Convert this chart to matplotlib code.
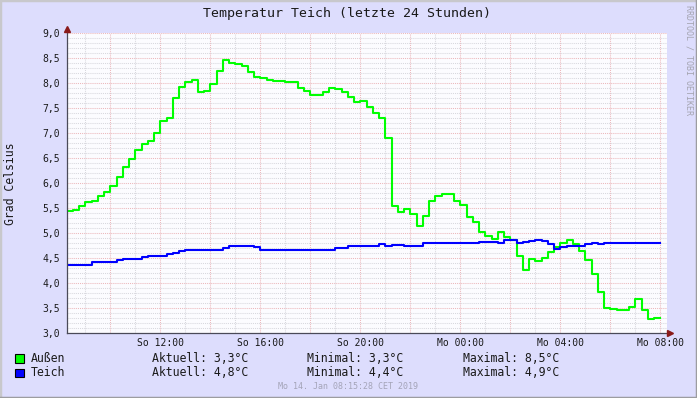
import numpy as np
import pandas as pd
import matplotlib
matplotlib.use("Agg")
import matplotlib.pyplot as plt
from matplotlib.patches import Rectangle
from matplotlib.lines import Line2D

# -----------------------------
#  DATA  (15-min values, So 13.01.2019 08:15 .. Mo 14.01.2019 08:00)
# -----------------------------
START = "2019-01-13 08:15"
END = "2019-01-14 08:15"

aussen = [5.45, 5.47, 5.55, 5.62, 5.65, 5.75, 5.82, 5.95, 6.13, 6.33,
          6.49, 6.67, 6.78, 6.85, 7.01, 7.25, 7.31, 7.71, 7.93, 8.02,
          8.06, 7.83, 7.85, 7.99, 8.25, 8.47, 8.41, 8.38, 8.35, 8.23,
          8.13, 8.10, 8.07, 8.04, 8.05, 8.02, 8.03, 7.91, 7.85, 7.77,
          7.77, 7.83, 7.91, 7.88, 7.83, 7.73, 7.63, 7.65, 7.52, 7.40,
          7.30, 6.90, 5.55, 5.43, 5.49, 5.39, 5.15, 5.35, 5.65, 5.75,
          5.79, 5.79, 5.65, 5.57, 5.32, 5.23, 5.03, 4.95, 4.88, 5.03,
          4.92, 4.87, 4.55, 4.27, 4.48, 4.45, 4.51, 4.62, 4.72, 4.81,
          4.87, 4.79, 4.65, 4.47, 4.19, 3.83, 3.51, 3.49, 3.47, 3.47,
          3.53, 3.69, 3.47, 3.28, 3.31]

teich = [4.37, 4.37, 4.37, 4.37, 4.43, 4.43, 4.43, 4.43, 4.46, 4.49,
         4.49, 4.49, 4.53, 4.55, 4.55, 4.55, 4.58, 4.61, 4.64, 4.67,
         4.67, 4.67, 4.67, 4.67, 4.67, 4.71, 4.75, 4.75, 4.75, 4.75,
         4.73, 4.67, 4.67, 4.67, 4.67, 4.67, 4.67, 4.67, 4.67, 4.67,
         4.67, 4.67, 4.67, 4.71, 4.71, 4.75, 4.75, 4.75, 4.75, 4.75,
         4.79, 4.75, 4.77, 4.77, 4.75, 4.75, 4.75, 4.81, 4.81, 4.81,
         4.81, 4.81, 4.81, 4.81, 4.81, 4.81, 4.83, 4.83, 4.83, 4.81,
         4.86, 4.86, 4.81, 4.83, 4.85, 4.87, 4.85, 4.79, 4.69, 4.72,
         4.75, 4.75, 4.75, 4.79, 4.81, 4.78, 4.80, 4.81, 4.81, 4.81,
         4.81, 4.81, 4.81, 4.81, 4.81]

x_ticks = ["2019-01-13 12:00", "2019-01-13 16:00", "2019-01-13 20:00",
           "2019-01-14 00:00", "2019-01-14 04:00", "2019-01-14 08:00"]
x_labels = ["So 12:00", "So 16:00", "So 20:00", "Mo 00:00", "Mo 04:00", "Mo 08:00"]

names = ["Außen", "Teich"]
colors = ["#00ff00", "#0000ff"]
aktuell = ["3,3", "4,8"]
minimal = ["3,3", "4,4"]
maximal = ["8,5", "4,9"]

# -----------------------------
#  STYLE
# -----------------------------
W, H = 697, 398
BACK = "#ddddfd"
CANVAS = "#fcfcff"
MONO = "DejaVu Sans Mono"
plt.rcParams["font.family"] = MONO

fig = plt.figure(figsize=(W / 100, H / 100), dpi=100)
fig.patch.set_facecolor(BACK)

def fx(x):
    return x / W

def fy(y):
    return 1 - y / H

ax = fig.add_axes([fx(66.7), fy(333.3), 600 / W, 300 / H])
ax.set_facecolor(CANVAS)
for s in ax.spines.values():
    s.set_visible(False)

t0, t1 = pd.Timestamp(START), pd.Timestamp(END)
ax.set_xlim(t0, t1)
ax.set_ylim(3.0, 9.0)

# grid: minor 1h / 0.1, major 2h / 0.5
dots = (0, (1, 1))
MAJ = "#ecb8bc"
MIN = "#d8d8de"
for t in pd.date_range("2019-01-13 09:00", "2019-01-14 08:00", freq="1h"):
    c = MAJ if t.hour % 2 == 0 else MIN
    ax.axvline(t, color=c, lw=0.75, ls=dots, zorder=1)
for k in range(31, 91):
    v = k / 10
    c = MAJ if k % 5 == 0 else MIN
    ax.axhline(v, color=c, lw=0.75, ls=dots, zorder=1)

# data
times = pd.date_range(START, periods=len(aussen) + 1, freq="15min")
ax.step(times, aussen + [aussen[-1]], where="post", color=colors[0], lw=1.5, zorder=3)
ax.step(times, teich + [teich[-1]], where="post", color=colors[1], lw=1.5, zorder=4)

# ticks
yt = np.arange(3.0, 9.01, 0.5)
ax.set_yticks(yt)
ax.set_yticklabels([f"{v:.1f}".replace(".", ",") for v in yt])
ax.set_xticks(pd.to_datetime(x_ticks))
ax.set_xticklabels(x_labels)
ax.tick_params(axis="y", length=0, pad=4.6, labelsize=7, labelcolor="#1a1a1a")
ax.tick_params(axis="x", length=0, pad=3.2, labelsize=7, labelcolor="#1a1a1a")

# axes with arrows
axis_c = "#4a4a58"
arrow_c = "#8a1a1a"
fig.add_artist(Line2D([fx(66.7), fx(66.7)], [fy(333.3), fy(29)], color=axis_c, lw=0.9))
fig.add_artist(Line2D([fx(66.7), fx(670)], [fy(333.3), fy(333.3)], color=axis_c, lw=0.9))
fig.add_artist(Line2D([fx(66.7)], [fy(29)], marker="^", ms=4.5, color=arrow_c, lw=0))
fig.add_artist(Line2D([fx(670)], [fy(333.3)], marker=">", ms=4.5, color=arrow_c, lw=0))

# texts
fig.text(fx(347), fy(13.5), "Temperatur Teich (letzte 24 Stunden)",
         ha="center", va="center", fontsize=9.5, color="#1a1a1a")
fig.text(fx(11), fy(183.3), "Grad Celsius", rotation=90,
         ha="center", va="center", fontsize=8.3, color="#1a1a1a")
fig.text(fx(689), fy(60), "RRDTOOL / TOBI OETIKER", rotation=270,
         ha="center", va="center", fontsize=6, color="#a4a4b0")
fig.text(fx(348), fy(386.5), "Mo 14. Jan 08:15:28 CET 2019",
         ha="center", va="center", fontsize=6, color="#a4a4b8")

# legend
for i, name in enumerate(names):
    y = 358.3 + i * 14.5
    fig.add_artist(Rectangle((fx(15), fy(y + 4.5)), 8.5 / W, 8.5 / H,
                             facecolor=colors[i], edgecolor="black", lw=0.8))
    kw = dict(ha="left", va="center", fontsize=8.3, color="#1a1a1a")
    fig.text(fx(31), fy(y), name, **kw)
    fig.text(fx(151.7), fy(y), f"Aktuell: {aktuell[i]}°C", **kw)
    fig.text(fx(307.3), fy(y), f"Minimal: {minimal[i]}°C", **kw)
    fig.text(fx(463.3), fy(y), f"Maximal: {maximal[i]}°C", **kw)

# 3d frame
fig.add_artist(Line2D([0, 0, 1], [0, 1, 1], transform=fig.transFigure,
                      color="#c8c8cc", lw=2.5))
fig.add_artist(Line2D([0, 1, 1], [0, 0, 1], transform=fig.transFigure,
                      color="#9c9ca0", lw=2.5))

fig.savefig("out.png", dpi=100, facecolor=fig.get_facecolor())
